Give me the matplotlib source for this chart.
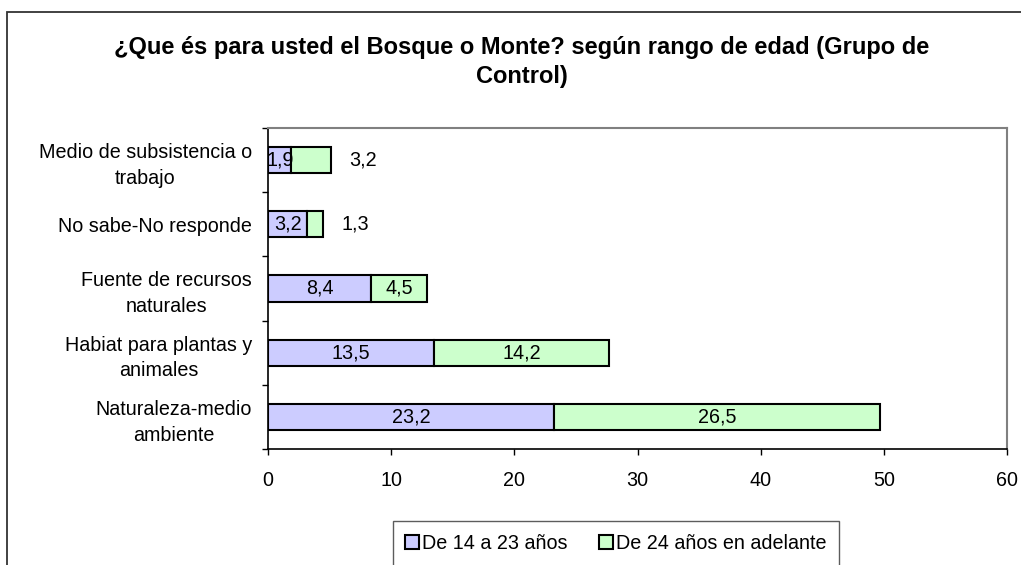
import matplotlib
matplotlib.use("Agg")
import matplotlib.pyplot as plt
from matplotlib.patches import Rectangle
import numpy as np

plt.rcParams['font.family'] = ['Liberation Sans', 'DejaVu Sans']

title = "¿Que és para usted el Bosque o Monte? según rango de edad (Grupo de\nControl)"
categories = ["Medio de subsistencia o\ntrabajo", "No sabe-No responde",
              "Fuente de recursos\nnaturales", "Habiat para plantas y\nanimales",
              "Naturaleza-medio\nambiente"]
series_names = ["De 14 a 23 años", "De 24 años en adelante"]
g1 = [1.9, 3.2, 8.4, 13.5, 23.2]
g2 = [3.2, 1.3, 4.5, 14.2, 26.5]
g1_labels = ["1,9", "3,2", "8,4", "13,5", "23,2"]
g2_labels = ["3,2", "1,3", "4,5", "14,2", "26,5"]
xticks = [0, 10, 20, 30, 40, 50, 60]

W, H = 1021, 565
fig = plt.figure(figsize=(W / 100, H / 100), dpi=100)
fig.patch.set_facecolor('white')

# outer border
fig.patches.append(Rectangle((7 / W, -0.1), 1.2, 1 - 12 / H + 0.1, transform=fig.transFigure,
                             fill=False, edgecolor='#333333', linewidth=1.3, clip_on=False))

ax = fig.add_axes([268 / W, (H - 449) / H, (1007 - 268) / W, (449 - 128) / H])

y = np.arange(len(categories))
fs = 14.2
h = 0.41
c1, c2 = '#CCCCFF', '#CCFFCC'
b1 = ax.barh(y, g1, height=h, color=c1, edgecolor='black', linewidth=1.5, label=series_names[0])
b2 = ax.barh(y, g2, left=g1, height=h, color=c2, edgecolor='black', linewidth=1.5, label=series_names[1])

for i in range(len(categories)):
    ax.text(g1[i] / 2, y[i], g1_labels[i], ha='center', va='center', fontsize=fs)
    if g2[i] >= 4:
        ax.text(g1[i] + g2[i] / 2, y[i], g2_labels[i], ha='center', va='center', fontsize=fs)
    else:
        ax.annotate(g2_labels[i], xy=(g1[i] + g2[i], y[i]), xytext=(13, 0),
                    textcoords='offset points', ha='left', va='center', fontsize=fs)

ax.set_xlim(0, 60)
ax.set_ylim(len(categories) - 0.5, -0.5)
ax.set_xticks(xticks)
ax.set_xticklabels([str(v) for v in xticks], fontsize=fs)
ax.set_yticks(y)
ax.set_yticklabels(categories, fontsize=fs, ha='right', multialignment='center',
                   linespacing=1.45)
ax.set_yticks(np.arange(len(categories) + 1) - 0.5, minor=True)
ax.tick_params(axis='y', which='major', length=0, pad=11.5)
ax.tick_params(axis='y', which='minor', length=4, width=1, direction='out', color='black')
ax.tick_params(axis='x', which='major', length=4, width=1, direction='out', pad=12)

for s in ['left', 'bottom']:
    ax.spines[s].set_color('black')
    ax.spines[s].set_linewidth(1.2)
for s in ['top', 'right']:
    ax.spines[s].set_color('#808080')
    ax.spines[s].set_linewidth(1.5)

fig.text(521.5 / W, 1 - 62 / H, title, ha='center', va='center', fontsize=17,
         fontweight='bold', linespacing=1.32)

leg = fig.legend(handles=[b1, b2], labels=series_names, loc='upper center',
                 bbox_to_anchor=(616 / W, 1 - 521 / H), ncol=2, fontsize=fs,
                 frameon=True, fancybox=False, borderpad=0.65, handlelength=0.7,
                 handleheight=0.7, handletextpad=0.15, columnspacing=1.6,
                 borderaxespad=0)
leg.get_frame().set_edgecolor('#333333')
leg.get_frame().set_linewidth(1.0)

fig.savefig('out.png', dpi=100, facecolor='white')
